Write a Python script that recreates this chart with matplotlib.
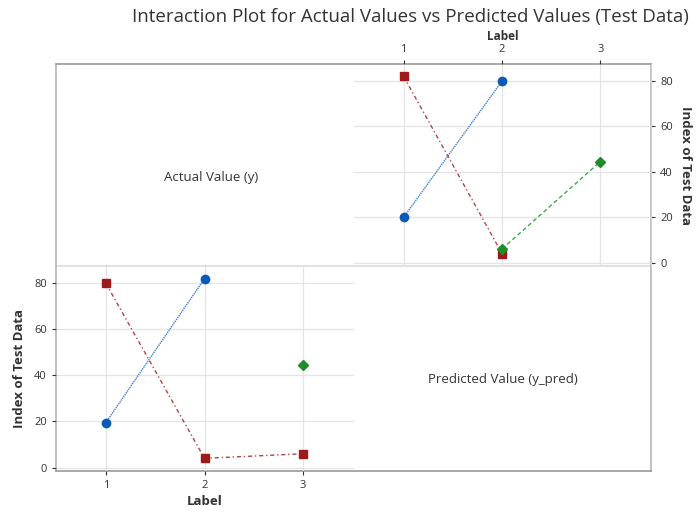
import matplotlib
matplotlib.use("Agg")
import matplotlib.pyplot as plt

plt.rcParams['font.family'] = ['Open Sans', 'DejaVu Sans']

labels = [1, 2, 3]
yticks = [0, 20, 40, 60, 80]

# Top-right panel
tr_blue_x = [1, 2]; tr_blue_y = [20, 80]
tr_red_x = [1, 2]; tr_red_y = [82, 4]
tr_green_x = [2, 3]; tr_green_y = [6, 44.5]

# Bottom-left panel
bl_blue_x = [1, 2]; bl_blue_y = [19.5, 82]
bl_red_x = [1, 2, 3]; bl_red_y = [80, 4, 6]
bl_green_x = [3]; bl_green_y = [44.5]

BLUE = '#0a5bb5'
RED = '#9c1a1a'
GREEN = '#1e8f28'
BLUE_L = '#3f7fcf'
RED_L = '#b04545'
GREEN_L = '#3fa94a'
GRID = '#e4e4e4'
TXT = '#333333'

W, H = 699, 512
fig = plt.figure(figsize=(W/100, H/100), dpi=100)

L, R, T, B = 56, 651, 64, 471
MX, MY = 354, 266

def rect(x0, y0, x1, y1):
    return [x0/W, 1 - y1/H, (x1-x0)/W, (y1-y0)/H]

frame = fig.add_axes(rect(L, T, R, B))
frame.set_xticks([]); frame.set_yticks([])
frame.patch.set_alpha(0)
for s in frame.spines.values():
    s.set_color('#b5b5b5'); s.set_linewidth(1.2)
frame.spines['top'].set_color('#999999')
frame.spines['bottom'].set_color('#999999')
frame.axhline(1 - (MY - T)/(B - T), color='#dcdcdc', lw=1.2)
frame.set_xlim(0, 1); frame.set_ylim(0, 1)

xlim = (0.495, 3.515)
ylim = (-1.5, 87.5)

def style(ax):
    ax.set_xlim(*xlim); ax.set_ylim(*ylim)
    ax.set_xticks(labels); ax.set_yticks(yticks)
    ax.grid(True, color=GRID, lw=0.9)
    ax.set_axisbelow(True)
    for s in ax.spines.values():
        s.set_visible(False)
    ax.tick_params(labelsize=8, colors='#333333', length=3, width=0.8)
    ax.patch.set_alpha(0)

def series(ax, x, y, lc, mc, ls, m, ms):
    ax.plot(x, y, color=lc, lw=1, ls=ls)
    ax.plot(x, y, color=mc, ls='none', marker=m, ms=ms)

ax1 = fig.add_axes(rect(MX, T, R, MY))
style(ax1)
ax1.xaxis.tick_top(); ax1.yaxis.tick_right()
ax1.spines['right'].set_visible(True); ax1.spines['right'].set_color('#cfcfcf')
series(ax1, tr_blue_x, tr_blue_y, BLUE_L, BLUE, (0, (1, 0.6)), 'o', 6)
series(ax1, tr_red_x, tr_red_y, RED_L, RED, (0, (3, 2, 1, 2)), 's', 6)
series(ax1, tr_green_x, tr_green_y, GREEN_L, GREEN, (0, (3, 2)), 'D', 5)
ax1.set_xlabel('Label', fontsize=8.5, fontweight='bold', color=TXT, labelpad=3)
ax1.xaxis.set_label_position('top')
ax1.set_ylabel('Index of Test Data', fontsize=9.5, fontweight='bold', color=TXT,
               rotation=-90, labelpad=14)
ax1.yaxis.set_label_position('right')

ax2 = fig.add_axes(rect(L, MY, MX, B))
style(ax2)
series(ax2, bl_blue_x, bl_blue_y, BLUE_L, BLUE, (0, (1, 0.6)), 'o', 6)
series(ax2, bl_red_x, bl_red_y, RED_L, RED, (0, (3, 2, 1, 2)), 's', 6)
series(ax2, bl_green_x, bl_green_y, GREEN_L, GREEN, 'none', 'D', 5)
ax2.set_xlabel('Label', fontsize=9.5, fontweight='bold', color=TXT, labelpad=3)
ax2.set_ylabel('Index of Test Data', fontsize=9.5, fontweight='bold', color=TXT, labelpad=6)

fig.text(211/W, 1 - 178/H, 'Actual Value (y)', ha='center', va='center',
         fontsize=9.5, color=TXT)
fig.text(503/W, 1 - 380/H, 'Predicted Value (y_pred)', ha='center', va='center',
         fontsize=9.5, color=TXT)

fig.text(410/W, 1 - 17/H, 'Interaction Plot for Actual Values vs Predicted Values (Test Data)',
         ha='center', va='center', fontsize=13.5, color=TXT)

fig.savefig('out.png', dpi=100)
